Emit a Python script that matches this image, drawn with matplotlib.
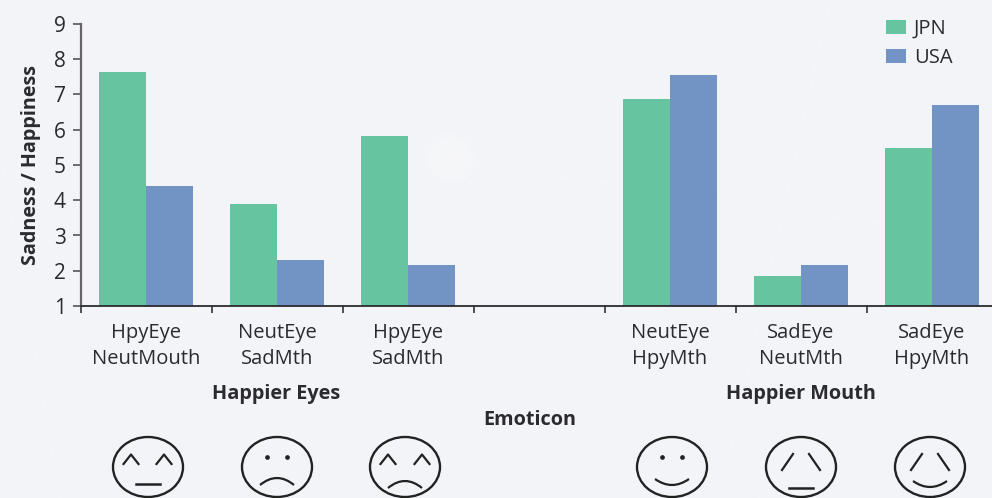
import matplotlib.pyplot as plt
import numpy as np
from matplotlib.patches import Ellipse, PathPatch
from matplotlib.path import Path

plt.rcParams["font.family"] = ["Open Sans", "DejaVu Sans"]

# hodnoty (prázdná skupina uprostřed)
labels = ["HpyEye\nNeutMouth", "NeutEye\nSadMth", "HpyEye\nSadMth", "",
          "NeutEye\nHpyMth", "SadEye\nNeutMth", "SadEye\nHpyMth"]
groups = [0, 1, 2, 4, 5, 6]
jpn = [7.65, 3.9, 5.83, 6.88, 1.85, 5.49]
usa = [4.4, 2.3, 2.16, 7.56, 2.16, 6.7]
yticks = [1, 2, 3, 4, 5, 6, 7, 8, 9]

GREEN = "#66c5a0"
BLUE = "#7294c4"
TEXT = "#2b2a2e"
BG = "#f2f4f8"

fig = plt.figure(figsize=(9.92, 4.98), dpi=100, facecolor=BG)

# vrstva v pixelech pro pozadí, popisky a obličeje
bg = fig.add_axes([0, 0, 1, 1], zorder=0)
bg.set_xlim(0, 992)
bg.set_ylim(498, 0)
bg.axis("off")
for x0, y0, x1, y1 in [(0, 150, 60, 498), (450, 160, 150, 0), (450, 160, 992, 240),
                       (450, 160, 760, 498), (830, 0, 720, 498), (300, 498, 450, 160)]:
    bg.plot([x0, x1], [y0, y1], color="#f5f6fa", lw=1.2, zorder=0)
# rozmazaná záře uprostřed pozadí
for r in [26, 21, 16, 11, 6]:
    bg.add_patch(Ellipse((450, 158), 2 * r, 2 * r, fc="white", ec="none", alpha=0.1))

# hlavní graf
ax = fig.add_axes([80.5 / 992, (498 - 306) / 498, 917 / 992, 282 / 498], zorder=1)
ax.patch.set_alpha(0)
w = 0.358
pos = np.array(groups) + 0.5
ax.bar(pos - w / 2, np.array(jpn) - 1, w, bottom=1, color=GREEN, label="JPN")
ax.bar(pos + w / 2, np.array(usa) - 1, w, bottom=1, color=BLUE, label="USA")
ax.set_xlim(0, 7)
ax.set_ylim(1, 9)
ax.set_yticks(yticks)
ax.set_xticks(range(8))
ax.set_xticklabels([])
ax.set_xticks(np.arange(7) + 0.5, labels, minor=True)
ax.tick_params(axis="y", length=6, width=1.2, color="#555555", pad=4.5,
               labelsize=15, labelcolor=TEXT)
ax.tick_params(axis="x", which="major", length=5, width=1.2, color="#333333")
ax.tick_params(axis="x", which="minor", length=0, pad=12, labelsize=14.5,
               labelcolor=TEXT)
for lab in ax.get_xticklabels(minor=True):
    lab.set_linespacing(1.45)
ax.spines["top"].set_visible(False)
ax.spines["right"].set_visible(False)
ax.spines["left"].set_color("#66646a")
ax.spines["left"].set_linewidth(1.6)
ax.spines["bottom"].set_color("#2b2a2e")
ax.spines["bottom"].set_linewidth(1.3)
ax.set_ylabel("Sadness / Happiness", fontsize=14.2, fontweight="bold", color=TEXT)
ax.yaxis.set_label_coords(-39 / 917, 0.5)
fig.legend(*ax.get_legend_handles_labels(), loc="upper left",
           bbox_to_anchor=(886 / 992, 1 - 19 / 498), frameon=False,
           fontsize=14.5, labelcolor=TEXT, handlelength=1.0, handleheight=0.74,
           handletextpad=0.38, labelspacing=0.45, borderpad=0, borderaxespad=0)

# popisky skupin a osy
bg.text(276, 394, "Happier Eyes", ha="center", va="center", fontsize=14.3,
        fontweight="bold", color=TEXT)
bg.text(801, 394, "Happier Mouth", ha="center", va="center", fontsize=14.3,
        fontweight="bold", color=TEXT)
bg.text(530, 420, "Emoticon", ha="center", va="center", fontsize=14.3,
        fontweight="bold", color=TEXT)

# emotikony, souřadnice relativně ke středu obličeje
INK = "#222222"


def caret(cx, cy, dx):
    bg.plot([cx + dx - 7.5, cx + dx, cx + dx + 7.5], [cy - 3, cy - 12.5, cy - 3],
            color=INK, lw=1.6)


def dots(cx, cy):
    bg.plot([cx - 10, cx + 10], [cy - 10, cy - 10], "o", color=INK, ms=3.4, mew=0)


def flat(cx, cy, dy):
    bg.plot([cx - 12, cx + 12], [cy + dy, cy + dy], color=INK, lw=1.8)


def arc(cx, cy, dy_end, dy_mid):
    ctrl = 2 * dy_mid - dy_end
    verts = [(cx - 17, cy + dy_end), (cx, cy + ctrl), (cx + 17, cy + dy_end)]
    bg.add_patch(PathPatch(Path(verts, [Path.MOVETO, Path.CURVE3, Path.CURVE3]),
                           fc="none", ec=INK, lw=1.6))


def slashes(cx, cy):
    bg.plot([cx - 19, cx - 8], [cy + 3, cy - 13], color=INK, lw=1.6)
    bg.plot([cx + 8, cx + 19], [cy - 13, cy + 3], color=INK, lw=1.6)


centers = [148, 277, 405, 672, 801, 930]
for cx in centers:
    bg.add_patch(Ellipse((cx, 467), 70, 60, fc="none", ec=INK, lw=1.7))
cy = 467
caret(centers[0], cy, -17)
caret(centers[0], cy, 16)
flat(centers[0], cy, 17)
dots(centers[1], cy)
arc(centers[1], cy, 18, 11)
caret(centers[2], cy, -17)
caret(centers[2], cy, 17)
arc(centers[2], cy, 21, 14)
dots(centers[3], cy)
arc(centers[3], cy, 12, 18)
slashes(centers[4], cy)
flat(centers[4], cy, 21)
slashes(centers[5], cy)
arc(centers[5], cy, 14, 20)

fig.savefig("out.png", dpi=100, facecolor=BG)
